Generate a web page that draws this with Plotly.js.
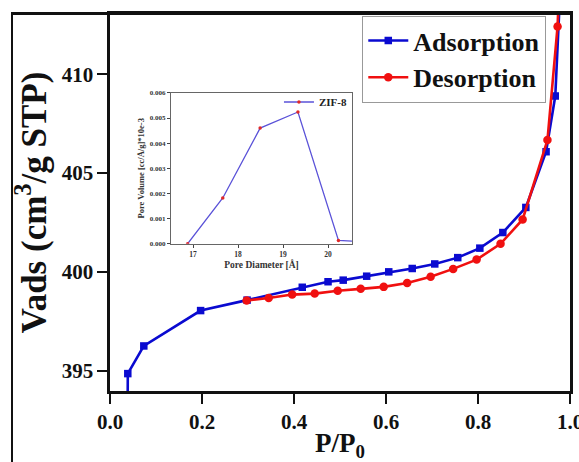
<!DOCTYPE html>
<html>
<head>
<meta charset="utf-8">
<script src="https://cdn.plot.ly/plotly-3.0.1.min.js"></script>
<style>
  html, body { margin: 0; padding: 0; background: #fff; overflow: hidden; }
  #wrap { position: relative; width: 579px; height: 462px; overflow: hidden; }
  #chart { position: absolute; left: 0; top: 0; width: 600px; height: 462px; }
  #frame {
    position: absolute; left: 11px; top: 12px; width: 560px; height: 460px;
    border-left: 2px solid #111; border-top: 3px solid #111;
    pointer-events: none; box-sizing: border-box;
  }
</style>
</head>
<body>
<div id="wrap">
  <div id="chart"></div>
  <div id="frame"></div>
</div>
<script>
// N2 isotherm of ZIF-8: relative pressure vs adsorbed volume
const adsP = [0.037, 0.0387, 0.0735, 0.197, 0.298, 0.418, 0.474, 0.507, 0.558, 0.606, 0.657, 0.706, 0.756, 0.804, 0.854, 0.904, 0.948, 0.968, 0.977];
const adsV = [385.0, 394.85, 396.25, 398.04, 398.57, 399.22, 399.50, 399.58, 399.78, 400.00, 400.17, 400.40, 400.72, 401.20, 401.99, 403.26, 406.08, 408.90, 413.40];

const desP = [0.976, 0.973, 0.951, 0.897, 0.849, 0.797, 0.746, 0.697, 0.646, 0.595, 0.545, 0.495, 0.445, 0.396, 0.345, 0.297];
const desV = [414.20, 412.42, 406.67, 402.65, 401.42, 400.62, 400.15, 399.75, 399.44, 399.24, 399.14, 399.04, 398.90, 398.85, 398.68, 398.55];

// Pore size distribution (inset)
const poreD = [16.88, 17.66, 18.49, 19.33, 20.23, 20.60];
const poreVol = [0.0000, 0.00182, 0.00460, 0.00524, 0.00013, 0.00010];

const xTicks = [0, 0.2, 0.4, 0.6, 0.8, 1.0];
const yTicks = [395, 400, 405, 410];
const insetXTicks = [17, 18, 19, 20];
const insetYTicks = [0, 0.001, 0.002, 0.003, 0.004, 0.005, 0.006];

const SERIF = 'Liberation Serif, Times New Roman, serif';

const traces = [
  {
    x: adsP, y: adsV, name: 'Adsorption', type: 'scatter', mode: 'lines+markers',
    line: { color: '#0a0ad0', width: 2.6 },
    marker: { symbol: 'square', size: 7.5, color: '#0a0ad0' },
    xaxis: 'x', yaxis: 'y', legend: 'legend'
  },
  {
    x: desP, y: desV, name: 'Desorption', type: 'scatter', mode: 'lines+markers',
    line: { color: '#f01010', width: 2.6 },
    marker: { symbol: 'circle', size: 8.5, color: '#f01010' },
    xaxis: 'x', yaxis: 'y', legend: 'legend'
  },
  {
    x: poreD, y: poreVol, name: 'ZIF-8', type: 'scatter', mode: 'lines+markers',
    line: { color: '#5a52d8', width: 1.3 },
    marker: { symbol: 'circle', size: 3.5, color: '#e02828' },
    xaxis: 'x2', yaxis: 'y2', legend: 'legend2'
  }
];

const layout = {
  width: 600, height: 462,
  margin: { l: 110, r: 30, t: 14, b: 71 },
  paper_bgcolor: '#ffffff', plot_bgcolor: '#ffffff',
  font: { family: SERIF, color: '#111' },
  showlegend: true,
  xaxis: {
    range: [0, 1], tickvals: xTicks, ticktext: xTicks.map(v => v.toFixed(1)),
    ticks: 'outside', ticklen: 10, tickwidth: 2, tickcolor: '#111',
    showline: true, linewidth: 2.6, linecolor: '#111', mirror: true,
    showgrid: false, zeroline: false,
    tickfont: { family: SERIF, size: 21, weight: 700, color: '#111' },
    title: { text: 'P/P<sub>0</sub>', font: { family: SERIF, size: 27, weight: 700, color: '#111' }, standoff: 6 }
  },
  yaxis: {
    range: [393.97, 413.05], tickvals: yTicks,
    ticks: 'outside', ticklen: 10, tickwidth: 2, tickcolor: '#111',
    showline: true, linewidth: 2.6, linecolor: '#111', mirror: true,
    showgrid: false, zeroline: false,
    tickfont: { family: SERIF, size: 21, weight: 700, color: '#111' },
    title: { text: 'Vads (cm<sup>3</sup>/g STP)', font: { family: SERIF, size: 35, weight: 700, color: '#111' }, standoff: 5 }
  },
  xaxis2: {
    domain: [0.1326, 0.526], anchor: 'y2', range: [16.51, 20.53], tickvals: insetXTicks,
    ticks: 'outside', ticklen: 3, tickwidth: 1, tickcolor: '#444',
    showline: true, linewidth: 1, linecolor: '#666', mirror: true,
    showgrid: false, zeroline: false,
    tickfont: { family: SERIF, size: 7.5, weight: 700, color: '#333' },
    title: { text: 'Pore Diameter [Å]', font: { family: SERIF, size: 9.5, weight: 700, color: '#333' }, standoff: 2 }
  },
  yaxis2: {
    domain: [0.3907, 0.7907], anchor: 'x2', range: [0, 0.006], tickvals: insetYTicks,
    tickformat: '.3f',
    ticks: 'outside', ticklen: 3, tickwidth: 1, tickcolor: '#444',
    showline: true, linewidth: 1, linecolor: '#666', mirror: true,
    showgrid: false, zeroline: false,
    tickfont: { family: SERIF, size: 7, weight: 700, color: '#333' },
    title: { text: 'Pore Volume [cc/Å/g]*10e-3', font: { family: SERIF, size: 8.5, weight: 700, color: '#333' }, standoff: 3 }
  },
  legend: {
    x: 0.548, y: 0.995, xanchor: 'left', yanchor: 'top',
    bgcolor: '#ffffff', bordercolor: '#999', borderwidth: 1.2,
    font: { family: SERIF, size: 26, weight: 700, color: '#111' },
    itemwidth: 40, tracegroupgap: 0
  },
  legend2: {
    x: 0.526, y: 0.805, xanchor: 'right', yanchor: 'top',
    bgcolor: 'rgba(0,0,0,0)', borderwidth: 0,
    font: { family: SERIF, size: 11, weight: 700, color: '#222' }
  }
};

Plotly.newPlot('chart', traces, layout, { staticPlot: true, displayModeBar: false });
</script>
</body>
</html>
